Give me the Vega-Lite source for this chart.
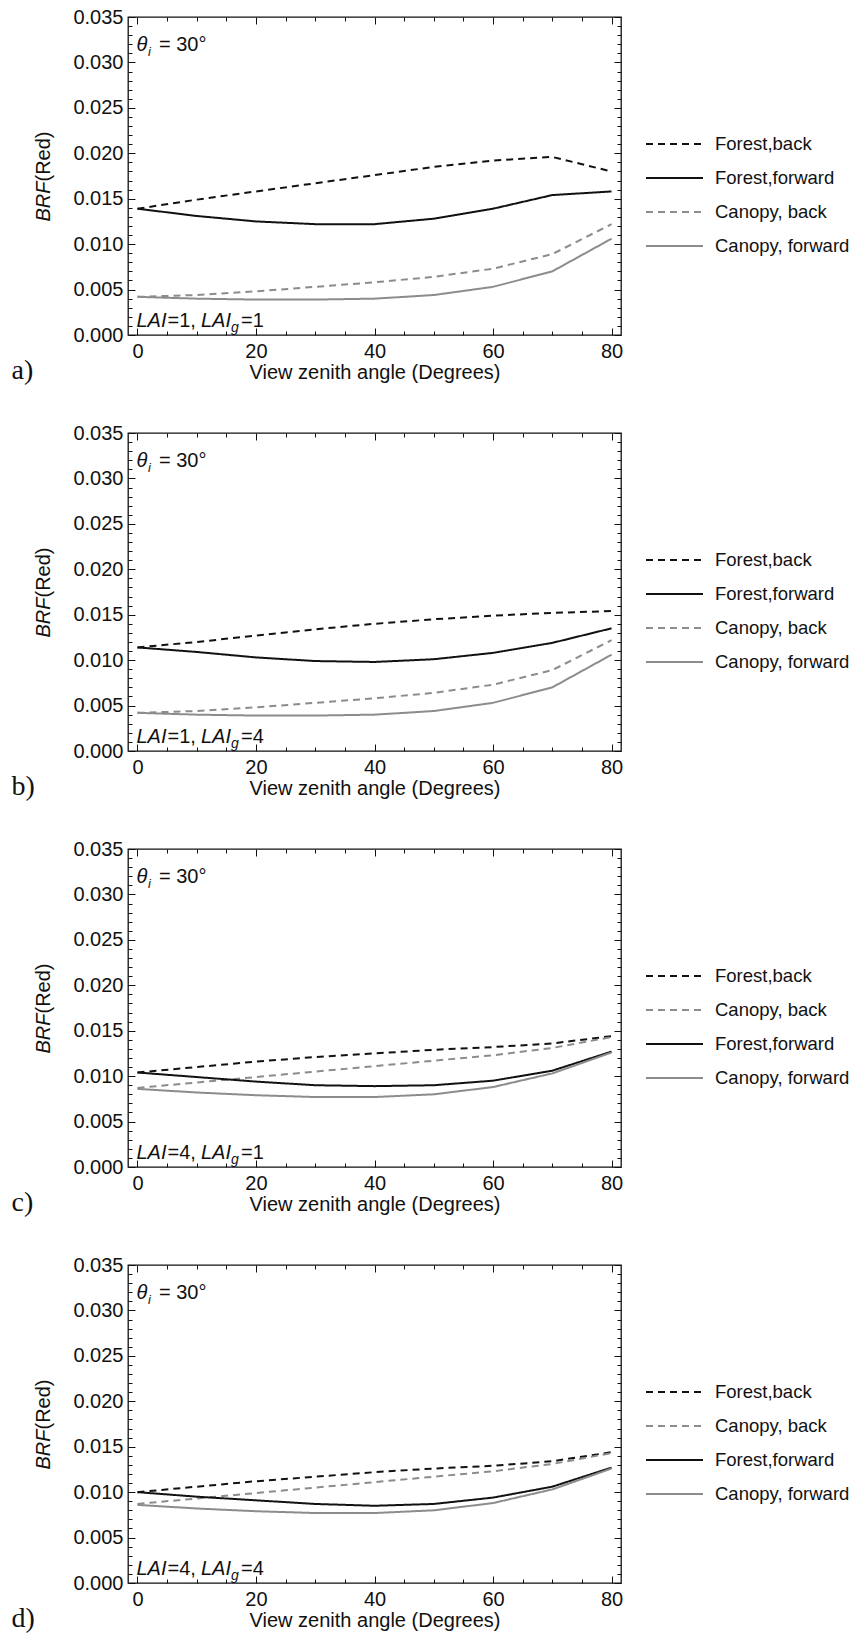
{
"background": "white",
"padding": {"top": 6, "left": 10, "right": 0, "bottom": 0},
"datasets": {
"curves": [
{"p":"a","s":"Forest,back","vza":0,"brf":0.0139},{"p":"a","s":"Forest,back","vza":10,"brf":0.0149},{"p":"a","s":"Forest,back","vza":20,"brf":0.0158},{"p":"a","s":"Forest,back","vza":30,"brf":0.0167},{"p":"a","s":"Forest,back","vza":40,"brf":0.0176},{"p":"a","s":"Forest,back","vza":50,"brf":0.0185},{"p":"a","s":"Forest,back","vza":60,"brf":0.0192},{"p":"a","s":"Forest,back","vza":70,"brf":0.0196},{"p":"a","s":"Forest,back","vza":80,"brf":0.0180},
{"p":"a","s":"Forest,forward","vza":0,"brf":0.0139},{"p":"a","s":"Forest,forward","vza":10,"brf":0.0131},{"p":"a","s":"Forest,forward","vza":20,"brf":0.0125},{"p":"a","s":"Forest,forward","vza":30,"brf":0.0122},{"p":"a","s":"Forest,forward","vza":40,"brf":0.0122},{"p":"a","s":"Forest,forward","vza":50,"brf":0.0128},{"p":"a","s":"Forest,forward","vza":60,"brf":0.0139},{"p":"a","s":"Forest,forward","vza":70,"brf":0.0154},{"p":"a","s":"Forest,forward","vza":80,"brf":0.0158},
{"p":"a","s":"Canopy, back","vza":0,"brf":0.0042},{"p":"a","s":"Canopy, back","vza":10,"brf":0.0044},{"p":"a","s":"Canopy, back","vza":20,"brf":0.0048},{"p":"a","s":"Canopy, back","vza":30,"brf":0.0053},{"p":"a","s":"Canopy, back","vza":40,"brf":0.0058},{"p":"a","s":"Canopy, back","vza":50,"brf":0.0064},{"p":"a","s":"Canopy, back","vza":60,"brf":0.0073},{"p":"a","s":"Canopy, back","vza":70,"brf":0.0089},{"p":"a","s":"Canopy, back","vza":80,"brf":0.0122},
{"p":"a","s":"Canopy, forward","vza":0,"brf":0.0042},{"p":"a","s":"Canopy, forward","vza":10,"brf":0.0040},{"p":"a","s":"Canopy, forward","vza":20,"brf":0.0039},{"p":"a","s":"Canopy, forward","vza":30,"brf":0.0039},{"p":"a","s":"Canopy, forward","vza":40,"brf":0.0040},{"p":"a","s":"Canopy, forward","vza":50,"brf":0.0044},{"p":"a","s":"Canopy, forward","vza":60,"brf":0.0053},{"p":"a","s":"Canopy, forward","vza":70,"brf":0.0070},{"p":"a","s":"Canopy, forward","vza":80,"brf":0.0106},
{"p":"b","s":"Forest,back","vza":0,"brf":0.0114},{"p":"b","s":"Forest,back","vza":10,"brf":0.0120},{"p":"b","s":"Forest,back","vza":20,"brf":0.0127},{"p":"b","s":"Forest,back","vza":30,"brf":0.0134},{"p":"b","s":"Forest,back","vza":40,"brf":0.0140},{"p":"b","s":"Forest,back","vza":50,"brf":0.0145},{"p":"b","s":"Forest,back","vza":60,"brf":0.0149},{"p":"b","s":"Forest,back","vza":70,"brf":0.0152},{"p":"b","s":"Forest,back","vza":80,"brf":0.0154},
{"p":"b","s":"Forest,forward","vza":0,"brf":0.0114},{"p":"b","s":"Forest,forward","vza":10,"brf":0.0109},{"p":"b","s":"Forest,forward","vza":20,"brf":0.0103},{"p":"b","s":"Forest,forward","vza":30,"brf":0.0099},{"p":"b","s":"Forest,forward","vza":40,"brf":0.0098},{"p":"b","s":"Forest,forward","vza":50,"brf":0.0101},{"p":"b","s":"Forest,forward","vza":60,"brf":0.0108},{"p":"b","s":"Forest,forward","vza":70,"brf":0.0119},{"p":"b","s":"Forest,forward","vza":80,"brf":0.0135},
{"p":"b","s":"Canopy, back","vza":0,"brf":0.0042},{"p":"b","s":"Canopy, back","vza":10,"brf":0.0044},{"p":"b","s":"Canopy, back","vza":20,"brf":0.0048},{"p":"b","s":"Canopy, back","vza":30,"brf":0.0053},{"p":"b","s":"Canopy, back","vza":40,"brf":0.0058},{"p":"b","s":"Canopy, back","vza":50,"brf":0.0064},{"p":"b","s":"Canopy, back","vza":60,"brf":0.0073},{"p":"b","s":"Canopy, back","vza":70,"brf":0.0089},{"p":"b","s":"Canopy, back","vza":80,"brf":0.0122},
{"p":"b","s":"Canopy, forward","vza":0,"brf":0.0042},{"p":"b","s":"Canopy, forward","vza":10,"brf":0.0040},{"p":"b","s":"Canopy, forward","vza":20,"brf":0.0039},{"p":"b","s":"Canopy, forward","vza":30,"brf":0.0039},{"p":"b","s":"Canopy, forward","vza":40,"brf":0.0040},{"p":"b","s":"Canopy, forward","vza":50,"brf":0.0044},{"p":"b","s":"Canopy, forward","vza":60,"brf":0.0053},{"p":"b","s":"Canopy, forward","vza":70,"brf":0.0070},{"p":"b","s":"Canopy, forward","vza":80,"brf":0.0106},
{"p":"c","s":"Forest,back","vza":0,"brf":0.0104},{"p":"c","s":"Forest,back","vza":10,"brf":0.0110},{"p":"c","s":"Forest,back","vza":20,"brf":0.0116},{"p":"c","s":"Forest,back","vza":30,"brf":0.0121},{"p":"c","s":"Forest,back","vza":40,"brf":0.0125},{"p":"c","s":"Forest,back","vza":50,"brf":0.0129},{"p":"c","s":"Forest,back","vza":60,"brf":0.0132},{"p":"c","s":"Forest,back","vza":70,"brf":0.0136},{"p":"c","s":"Forest,back","vza":80,"brf":0.0144},
{"p":"c","s":"Canopy, back","vza":0,"brf":0.0087},{"p":"c","s":"Canopy, back","vza":10,"brf":0.0093},{"p":"c","s":"Canopy, back","vza":20,"brf":0.0099},{"p":"c","s":"Canopy, back","vza":30,"brf":0.0105},{"p":"c","s":"Canopy, back","vza":40,"brf":0.0111},{"p":"c","s":"Canopy, back","vza":50,"brf":0.0117},{"p":"c","s":"Canopy, back","vza":60,"brf":0.0123},{"p":"c","s":"Canopy, back","vza":70,"brf":0.0131},{"p":"c","s":"Canopy, back","vza":80,"brf":0.0143},
{"p":"c","s":"Forest,forward","vza":0,"brf":0.0104},{"p":"c","s":"Forest,forward","vza":10,"brf":0.0099},{"p":"c","s":"Forest,forward","vza":20,"brf":0.0094},{"p":"c","s":"Forest,forward","vza":30,"brf":0.0090},{"p":"c","s":"Forest,forward","vza":40,"brf":0.0089},{"p":"c","s":"Forest,forward","vza":50,"brf":0.0090},{"p":"c","s":"Forest,forward","vza":60,"brf":0.0095},{"p":"c","s":"Forest,forward","vza":70,"brf":0.0106},{"p":"c","s":"Forest,forward","vza":80,"brf":0.0127},
{"p":"c","s":"Canopy, forward","vza":0,"brf":0.0086},{"p":"c","s":"Canopy, forward","vza":10,"brf":0.0082},{"p":"c","s":"Canopy, forward","vza":20,"brf":0.0079},{"p":"c","s":"Canopy, forward","vza":30,"brf":0.0077},{"p":"c","s":"Canopy, forward","vza":40,"brf":0.0077},{"p":"c","s":"Canopy, forward","vza":50,"brf":0.0080},{"p":"c","s":"Canopy, forward","vza":60,"brf":0.0088},{"p":"c","s":"Canopy, forward","vza":70,"brf":0.0103},{"p":"c","s":"Canopy, forward","vza":80,"brf":0.0126},
{"p":"d","s":"Forest,back","vza":0,"brf":0.0100},{"p":"d","s":"Forest,back","vza":10,"brf":0.0106},{"p":"d","s":"Forest,back","vza":20,"brf":0.0112},{"p":"d","s":"Forest,back","vza":30,"brf":0.0117},{"p":"d","s":"Forest,back","vza":40,"brf":0.0122},{"p":"d","s":"Forest,back","vza":50,"brf":0.0126},{"p":"d","s":"Forest,back","vza":60,"brf":0.0129},{"p":"d","s":"Forest,back","vza":70,"brf":0.0134},{"p":"d","s":"Forest,back","vza":80,"brf":0.0144},
{"p":"d","s":"Canopy, back","vza":0,"brf":0.0087},{"p":"d","s":"Canopy, back","vza":10,"brf":0.0093},{"p":"d","s":"Canopy, back","vza":20,"brf":0.0099},{"p":"d","s":"Canopy, back","vza":30,"brf":0.0105},{"p":"d","s":"Canopy, back","vza":40,"brf":0.0111},{"p":"d","s":"Canopy, back","vza":50,"brf":0.0117},{"p":"d","s":"Canopy, back","vza":60,"brf":0.0123},{"p":"d","s":"Canopy, back","vza":70,"brf":0.0131},{"p":"d","s":"Canopy, back","vza":80,"brf":0.0143},
{"p":"d","s":"Forest,forward","vza":0,"brf":0.0100},{"p":"d","s":"Forest,forward","vza":10,"brf":0.0095},{"p":"d","s":"Forest,forward","vza":20,"brf":0.0091},{"p":"d","s":"Forest,forward","vza":30,"brf":0.0087},{"p":"d","s":"Forest,forward","vza":40,"brf":0.0085},{"p":"d","s":"Forest,forward","vza":50,"brf":0.0087},{"p":"d","s":"Forest,forward","vza":60,"brf":0.0094},{"p":"d","s":"Forest,forward","vza":70,"brf":0.0106},{"p":"d","s":"Forest,forward","vza":80,"brf":0.0127},
{"p":"d","s":"Canopy, forward","vza":0,"brf":0.0086},{"p":"d","s":"Canopy, forward","vza":10,"brf":0.0082},{"p":"d","s":"Canopy, forward","vza":20,"brf":0.0079},{"p":"d","s":"Canopy, forward","vza":30,"brf":0.0077},{"p":"d","s":"Canopy, forward","vza":40,"brf":0.0077},{"p":"d","s":"Canopy, forward","vza":50,"brf":0.0080},{"p":"d","s":"Canopy, forward","vza":60,"brf":0.0088},{"p":"d","s":"Canopy, forward","vza":70,"brf":0.0103},{"p":"d","s":"Canopy, forward","vza":80,"brf":0.0126}
],
"theta": [
{"k":"th","vza":0,"brf":0.0313,"t":"θ"},{"k":"i","vza":0,"brf":0.0313,"t":"i"},{"k":"eq","vza":0,"brf":0.0313,"t":"= 30°"}
],
"lai": [
{"p":"a","k":"L1","vza":0,"brf":0.0009,"t":"LAI"},{"p":"a","k":"E1","vza":0,"brf":0.0009,"t":"=1,"},{"p":"a","k":"L2","vza":0,"brf":0.0009,"t":"LAI"},{"p":"a","k":"g","vza":0,"brf":0.0009,"t":"g"},{"p":"a","k":"E2","vza":0,"brf":0.0009,"t":"=1"},
{"p":"b","k":"L1","vza":0,"brf":0.0009,"t":"LAI"},{"p":"b","k":"E1","vza":0,"brf":0.0009,"t":"=1,"},{"p":"b","k":"L2","vza":0,"brf":0.0009,"t":"LAI"},{"p":"b","k":"g","vza":0,"brf":0.0009,"t":"g"},{"p":"b","k":"E2","vza":0,"brf":0.0009,"t":"=4"},
{"p":"c","k":"L1","vza":0,"brf":0.0009,"t":"LAI"},{"p":"c","k":"E1","vza":0,"brf":0.0009,"t":"=4,"},{"p":"c","k":"L2","vza":0,"brf":0.0009,"t":"LAI"},{"p":"c","k":"g","vza":0,"brf":0.0009,"t":"g"},{"p":"c","k":"E2","vza":0,"brf":0.0009,"t":"=1"},
{"p":"d","k":"L1","vza":0,"brf":0.0009,"t":"LAI"},{"p":"d","k":"E1","vza":0,"brf":0.0009,"t":"=4,"},{"p":"d","k":"L2","vza":0,"brf":0.0009,"t":"LAI"},{"p":"d","k":"g","vza":0,"brf":0.0009,"t":"g"},{"p":"d","k":"E2","vza":0,"brf":0.0009,"t":"=4"}
]
},
"bounds": "flush",
"spacing": 98,
"resolve": {"scale": {"color": "independent", "strokeDash": "independent"}, "legend": {"color": "independent", "strokeDash": "independent"}},
"vconcat": [
{"width": 493, "height": 318, "resolve": {"axis": {"x": "independent", "y": "independent"}},
"layer": [
{"data": {"name": "curves"}, "transform": [{"filter": "datum.p === 'a'"}], "mark": {"type": "line", "strokeWidth": 2},
"encoding": {
"x": {"field": "vza", "type": "quantitative", "scale": {"domain": [-1.6, 81.6], "nice": false, "zero": false}, "axis": {"orient": "bottom", "values": [0,20,40,60,80], "ticks": false, "labelPadding": 6, "labelFlush": false, "title": "View zenith angle (Degrees)", "titleY": 37, "titleBaseline": "middle"}},
"y": {"field": "brf", "type": "quantitative", "scale": {"domain": [0, 0.035], "nice": false, "zero": false}, "axis": {"orient": "left", "values": [0,0.005,0.01,0.015,0.02,0.025,0.03,0.035], "format": ".3f", "ticks": false, "labelPadding": 5, "labelFlush": false, "title": "BRF", "titleFontStyle": "italic", "titleX": -85, "titleY": 184, "titleBaseline": "middle", "titleAlign": "center"}},
"color": {"field": "s", "type": "nominal", "scale": {"domain": ["Forest,back","Forest,forward","Canopy, back","Canopy, forward"], "range": ["#111111","#111111","#8c8c8c","#8c8c8c"]}, "legend": {"title": null, "orient": "none", "legendX": 517, "legendY": 110, "direction": "vertical", "padding": 0, "symbolType": "stroke", "symbolSize": 3249, "symbolStrokeWidth": 2, "clipHeight": 34, "rowPadding": 0, "labelOffset": 11, "labelFont": "Liberation Sans", "labelFontSize": 18.5, "labelColor": "#111111", "labelLimit": 300}},
"strokeDash": {"field": "s", "type": "nominal", "scale": {"domain": ["Forest,back","Forest,forward","Canopy, back","Canopy, forward"], "range": [[7,5],[1,0],[7,5],[1,0]]}, "legend": {"title": null, "orient": "none", "legendX": 517, "legendY": 110, "direction": "vertical", "padding": 0, "symbolType": "stroke", "symbolSize": 3249, "symbolStrokeWidth": 2, "clipHeight": 34, "rowPadding": 0, "labelOffset": 11, "labelFont": "Liberation Sans", "labelFontSize": 18.5, "labelColor": "#111111", "labelLimit": 300}}
}},
{"data": {"name": "curves"}, "transform": [{"filter": "datum.p === 'a'"}], "mark": {"type": "point", "opacity": 0},
"encoding": {
"x": {"field": "vza", "type": "quantitative", "scale": {"domain": [-1.6, 81.6], "nice": false, "zero": false}, "axis": {"orient": "bottom", "values": [0,20,40,60,80], "labels": false, "tickSize": -7, "title": null}},
"y": {"field": "brf", "type": "quantitative", "scale": {"domain": [0, 0.035], "nice": false, "zero": false}, "axis": {"orient": "left", "values": [0,0.005,0.01,0.015,0.02,0.025,0.03,0.035], "labels": false, "tickSize": -7, "title": null}}
}},
{"data": {"name": "curves"}, "transform": [{"filter": "datum.p === 'a'"}], "mark": {"type": "point", "opacity": 0},
"encoding": {
"x": {"field": "vza", "type": "quantitative", "scale": {"domain": [-1.6, 81.6], "nice": false, "zero": false}, "axis": {"orient": "bottom", "values": [5,10,15,25,30,35,45,50,55,65,70,75], "labels": false, "tickSize": -4, "title": "a)", "titleFont": "Liberation Serif", "titleFontSize": 28, "titleX": -117, "titleY": 35, "titleAlign": "left", "titleBaseline": "middle"}},
"y": {"field": "brf", "type": "quantitative", "scale": {"domain": [0, 0.035], "nice": false, "zero": false}, "axis": {"orient": "left", "values": [0.001,0.002,0.003,0.004,0.006,0.007,0.008,0.009,0.011,0.012,0.013,0.014,0.016,0.017,0.018,0.019,0.021,0.022,0.023,0.024,0.026,0.027,0.028,0.029,0.031,0.032,0.033,0.034], "labels": false, "tickSize": -4, "title": "(Red)", "titleX": -85, "titleY": 139, "titleBaseline": "middle", "titleAlign": "center"}}
}},
{"data": {"name": "curves"}, "transform": [{"filter": "datum.p === 'a'"}], "mark": {"type": "point", "opacity": 0},
"encoding": {
"x": {"field": "vza", "type": "quantitative", "scale": {"domain": [-1.6, 81.6], "nice": false, "zero": false}, "axis": {"orient": "top", "values": [0,20,40,60,80], "labels": false, "tickSize": -7, "title": null}},
"y": {"field": "brf", "type": "quantitative", "scale": {"domain": [0, 0.035], "nice": false, "zero": false}, "axis": {"orient": "right", "values": [0,0.005,0.01,0.015,0.02,0.025,0.03,0.035], "labels": false, "tickSize": -7, "title": null}}
}},
{"data": {"name": "curves"}, "transform": [{"filter": "datum.p === 'a'"}], "mark": {"type": "point", "opacity": 0},
"encoding": {
"x": {"field": "vza", "type": "quantitative", "scale": {"domain": [-1.6, 81.6], "nice": false, "zero": false}, "axis": {"orient": "top", "values": [5,10,15,25,30,35,45,50,55,65,70,75], "labels": false, "tickSize": -4, "title": null}},
"y": {"field": "brf", "type": "quantitative", "scale": {"domain": [0, 0.035], "nice": false, "zero": false}, "axis": {"orient": "right", "values": [0.001,0.002,0.003,0.004,0.006,0.007,0.008,0.009,0.011,0.012,0.013,0.014,0.016,0.017,0.018,0.019,0.021,0.022,0.023,0.024,0.026,0.027,0.028,0.029,0.031,0.032,0.033,0.034], "labels": false, "tickSize": -4, "title": null}}
}},
{"data": {"name": "theta"}, "transform": [{"filter": "datum.k === 'th'"}], "mark": {"type": "text", "align": "left", "baseline": "alphabetic", "fontSize": 20, "fontStyle": "italic", "dx": -1},
"encoding": {"x": {"field": "vza", "type": "quantitative", "scale": {"domain": [-1.6, 81.6], "nice": false, "zero": false}, "axis": null}, "y": {"field": "brf", "type": "quantitative", "scale": {"domain": [0, 0.035], "nice": false, "zero": false}, "axis": null}, "text": {"field": "t"}}},
{"data": {"name": "theta"}, "transform": [{"filter": "datum.k === 'i'"}], "mark": {"type": "text", "align": "left", "baseline": "alphabetic", "fontSize": 13, "fontStyle": "italic", "dx": 10.5, "dy": 5},
"encoding": {"x": {"field": "vza", "type": "quantitative", "scale": {"domain": [-1.6, 81.6], "nice": false, "zero": false}, "axis": null}, "y": {"field": "brf", "type": "quantitative", "scale": {"domain": [0, 0.035], "nice": false, "zero": false}, "axis": null}, "text": {"field": "t"}}},
{"data": {"name": "theta"}, "transform": [{"filter": "datum.k === 'eq'"}], "mark": {"type": "text", "align": "left", "baseline": "alphabetic", "fontSize": 20, "dx": 21.5},
"encoding": {"x": {"field": "vza", "type": "quantitative", "scale": {"domain": [-1.6, 81.6], "nice": false, "zero": false}, "axis": null}, "y": {"field": "brf", "type": "quantitative", "scale": {"domain": [0, 0.035], "nice": false, "zero": false}, "axis": null}, "text": {"field": "t"}}},
{"data": {"name": "lai"}, "transform": [{"filter": "datum.p === 'a' && datum.k === 'L1'"}], "mark": {"type": "text", "align": "left", "baseline": "alphabetic", "fontSize": 20, "fontStyle": "italic", "dx": -1},
"encoding": {"x": {"field": "vza", "type": "quantitative", "scale": {"domain": [-1.6, 81.6], "nice": false, "zero": false}, "axis": null}, "y": {"field": "brf", "type": "quantitative", "scale": {"domain": [0, 0.035], "nice": false, "zero": false}, "axis": null}, "text": {"field": "t"}}},
{"data": {"name": "lai"}, "transform": [{"filter": "datum.p === 'a' && datum.k === 'E1'"}], "mark": {"type": "text", "align": "left", "baseline": "alphabetic", "fontSize": 20, "dx": 30},
"encoding": {"x": {"field": "vza", "type": "quantitative", "scale": {"domain": [-1.6, 81.6], "nice": false, "zero": false}, "axis": null}, "y": {"field": "brf", "type": "quantitative", "scale": {"domain": [0, 0.035], "nice": false, "zero": false}, "axis": null}, "text": {"field": "t"}}},
{"data": {"name": "lai"}, "transform": [{"filter": "datum.p === 'a' && datum.k === 'L2'"}], "mark": {"type": "text", "align": "left", "baseline": "alphabetic", "fontSize": 20, "fontStyle": "italic", "dx": 63.5},
"encoding": {"x": {"field": "vza", "type": "quantitative", "scale": {"domain": [-1.6, 81.6], "nice": false, "zero": false}, "axis": null}, "y": {"field": "brf", "type": "quantitative", "scale": {"domain": [0, 0.035], "nice": false, "zero": false}, "axis": null}, "text": {"field": "t"}}},
{"data": {"name": "lai"}, "transform": [{"filter": "datum.p === 'a' && datum.k === 'g'"}], "mark": {"type": "text", "align": "left", "baseline": "alphabetic", "fontSize": 14, "fontStyle": "italic", "dx": 93.5, "dy": 5},
"encoding": {"x": {"field": "vza", "type": "quantitative", "scale": {"domain": [-1.6, 81.6], "nice": false, "zero": false}, "axis": null}, "y": {"field": "brf", "type": "quantitative", "scale": {"domain": [0, 0.035], "nice": false, "zero": false}, "axis": null}, "text": {"field": "t"}}},
{"data": {"name": "lai"}, "transform": [{"filter": "datum.p === 'a' && datum.k === 'E2'"}], "mark": {"type": "text", "align": "left", "baseline": "alphabetic", "fontSize": 20, "dx": 103.5},
"encoding": {"x": {"field": "vza", "type": "quantitative", "scale": {"domain": [-1.6, 81.6], "nice": false, "zero": false}, "axis": null}, "y": {"field": "brf", "type": "quantitative", "scale": {"domain": [0, 0.035], "nice": false, "zero": false}, "axis": null}, "text": {"field": "t"}}}
]},
{"width": 493, "height": 318, "resolve": {"axis": {"x": "independent", "y": "independent"}},
"layer": [
{"data": {"name": "curves"}, "transform": [{"filter": "datum.p === 'b'"}], "mark": {"type": "line", "strokeWidth": 2},
"encoding": {
"x": {"field": "vza", "type": "quantitative", "scale": {"domain": [-1.6, 81.6], "nice": false, "zero": false}, "axis": {"orient": "bottom", "values": [0,20,40,60,80], "ticks": false, "labelPadding": 6, "labelFlush": false, "title": "View zenith angle (Degrees)", "titleY": 37, "titleBaseline": "middle"}},
"y": {"field": "brf", "type": "quantitative", "scale": {"domain": [0, 0.035], "nice": false, "zero": false}, "axis": {"orient": "left", "values": [0,0.005,0.01,0.015,0.02,0.025,0.03,0.035], "format": ".3f", "ticks": false, "labelPadding": 5, "labelFlush": false, "title": "BRF", "titleFontStyle": "italic", "titleX": -85, "titleY": 184, "titleBaseline": "middle", "titleAlign": "center"}},
"color": {"field": "s", "type": "nominal", "scale": {"domain": ["Forest,back","Forest,forward","Canopy, back","Canopy, forward"], "range": ["#111111","#111111","#8c8c8c","#8c8c8c"]}, "legend": {"title": null, "orient": "none", "legendX": 517, "legendY": 110, "direction": "vertical", "padding": 0, "symbolType": "stroke", "symbolSize": 3249, "symbolStrokeWidth": 2, "clipHeight": 34, "rowPadding": 0, "labelOffset": 11, "labelFont": "Liberation Sans", "labelFontSize": 18.5, "labelColor": "#111111", "labelLimit": 300}},
"strokeDash": {"field": "s", "type": "nominal", "scale": {"domain": ["Forest,back","Forest,forward","Canopy, back","Canopy, forward"], "range": [[7,5],[1,0],[7,5],[1,0]]}, "legend": {"title": null, "orient": "none", "legendX": 517, "legendY": 110, "direction": "vertical", "padding": 0, "symbolType": "stroke", "symbolSize": 3249, "symbolStrokeWidth": 2, "clipHeight": 34, "rowPadding": 0, "labelOffset": 11, "labelFont": "Liberation Sans", "labelFontSize": 18.5, "labelColor": "#111111", "labelLimit": 300}}
}},
{"data": {"name": "curves"}, "transform": [{"filter": "datum.p === 'b'"}], "mark": {"type": "point", "opacity": 0},
"encoding": {
"x": {"field": "vza", "type": "quantitative", "scale": {"domain": [-1.6, 81.6], "nice": false, "zero": false}, "axis": {"orient": "bottom", "values": [0,20,40,60,80], "labels": false, "tickSize": -7, "title": null}},
"y": {"field": "brf", "type": "quantitative", "scale": {"domain": [0, 0.035], "nice": false, "zero": false}, "axis": {"orient": "left", "values": [0,0.005,0.01,0.015,0.02,0.025,0.03,0.035], "labels": false, "tickSize": -7, "title": null}}
}},
{"data": {"name": "curves"}, "transform": [{"filter": "datum.p === 'b'"}], "mark": {"type": "point", "opacity": 0},
"encoding": {
"x": {"field": "vza", "type": "quantitative", "scale": {"domain": [-1.6, 81.6], "nice": false, "zero": false}, "axis": {"orient": "bottom", "values": [5,10,15,25,30,35,45,50,55,65,70,75], "labels": false, "tickSize": -4, "title": "b)", "titleFont": "Liberation Serif", "titleFontSize": 28, "titleX": -117, "titleY": 35, "titleAlign": "left", "titleBaseline": "middle"}},
"y": {"field": "brf", "type": "quantitative", "scale": {"domain": [0, 0.035], "nice": false, "zero": false}, "axis": {"orient": "left", "values": [0.001,0.002,0.003,0.004,0.006,0.007,0.008,0.009,0.011,0.012,0.013,0.014,0.016,0.017,0.018,0.019,0.021,0.022,0.023,0.024,0.026,0.027,0.028,0.029,0.031,0.032,0.033,0.034], "labels": false, "tickSize": -4, "title": "(Red)", "titleX": -85, "titleY": 139, "titleBaseline": "middle", "titleAlign": "center"}}
}},
{"data": {"name": "curves"}, "transform": [{"filter": "datum.p === 'b'"}], "mark": {"type": "point", "opacity": 0},
"encoding": {
"x": {"field": "vza", "type": "quantitative", "scale": {"domain": [-1.6, 81.6], "nice": false, "zero": false}, "axis": {"orient": "top", "values": [0,20,40,60,80], "labels": false, "tickSize": -7, "title": null}},
"y": {"field": "brf", "type": "quantitative", "scale": {"domain": [0, 0.035], "nice": false, "zero": false}, "axis": {"orient": "right", "values": [0,0.005,0.01,0.015,0.02,0.025,0.03,0.035], "labels": false, "tickSize": -7, "title": null}}
}},
{"data": {"name": "curves"}, "transform": [{"filter": "datum.p === 'b'"}], "mark": {"type": "point", "opacity": 0},
"encoding": {
"x": {"field": "vza", "type": "quantitative", "scale": {"domain": [-1.6, 81.6], "nice": false, "zero": false}, "axis": {"orient": "top", "values": [5,10,15,25,30,35,45,50,55,65,70,75], "labels": false, "tickSize": -4, "title": null}},
"y": {"field": "brf", "type": "quantitative", "scale": {"domain": [0, 0.035], "nice": false, "zero": false}, "axis": {"orient": "right", "values": [0.001,0.002,0.003,0.004,0.006,0.007,0.008,0.009,0.011,0.012,0.013,0.014,0.016,0.017,0.018,0.019,0.021,0.022,0.023,0.024,0.026,0.027,0.028,0.029,0.031,0.032,0.033,0.034], "labels": false, "tickSize": -4, "title": null}}
}},
{"data": {"name": "theta"}, "transform": [{"filter": "datum.k === 'th'"}], "mark": {"type": "text", "align": "left", "baseline": "alphabetic", "fontSize": 20, "fontStyle": "italic", "dx": -1},
"encoding": {"x": {"field": "vza", "type": "quantitative", "scale": {"domain": [-1.6, 81.6], "nice": false, "zero": false}, "axis": null}, "y": {"field": "brf", "type": "quantitative", "scale": {"domain": [0, 0.035], "nice": false, "zero": false}, "axis": null}, "text": {"field": "t"}}},
{"data": {"name": "theta"}, "transform": [{"filter": "datum.k === 'i'"}], "mark": {"type": "text", "align": "left", "baseline": "alphabetic", "fontSize": 13, "fontStyle": "italic", "dx": 10.5, "dy": 5},
"encoding": {"x": {"field": "vza", "type": "quantitative", "scale": {"domain": [-1.6, 81.6], "nice": false, "zero": false}, "axis": null}, "y": {"field": "brf", "type": "quantitative", "scale": {"domain": [0, 0.035], "nice": false, "zero": false}, "axis": null}, "text": {"field": "t"}}},
{"data": {"name": "theta"}, "transform": [{"filter": "datum.k === 'eq'"}], "mark": {"type": "text", "align": "left", "baseline": "alphabetic", "fontSize": 20, "dx": 21.5},
"encoding": {"x": {"field": "vza", "type": "quantitative", "scale": {"domain": [-1.6, 81.6], "nice": false, "zero": false}, "axis": null}, "y": {"field": "brf", "type": "quantitative", "scale": {"domain": [0, 0.035], "nice": false, "zero": false}, "axis": null}, "text": {"field": "t"}}},
{"data": {"name": "lai"}, "transform": [{"filter": "datum.p === 'b' && datum.k === 'L1'"}], "mark": {"type": "text", "align": "left", "baseline": "alphabetic", "fontSize": 20, "fontStyle": "italic", "dx": -1},
"encoding": {"x": {"field": "vza", "type": "quantitative", "scale": {"domain": [-1.6, 81.6], "nice": false, "zero": false}, "axis": null}, "y": {"field": "brf", "type": "quantitative", "scale": {"domain": [0, 0.035], "nice": false, "zero": false}, "axis": null}, "text": {"field": "t"}}},
{"data": {"name": "lai"}, "transform": [{"filter": "datum.p === 'b' && datum.k === 'E1'"}], "mark": {"type": "text", "align": "left", "baseline": "alphabetic", "fontSize": 20, "dx": 30},
"encoding": {"x": {"field": "vza", "type": "quantitative", "scale": {"domain": [-1.6, 81.6], "nice": false, "zero": false}, "axis": null}, "y": {"field": "brf", "type": "quantitative", "scale": {"domain": [0, 0.035], "nice": false, "zero": false}, "axis": null}, "text": {"field": "t"}}},
{"data": {"name": "lai"}, "transform": [{"filter": "datum.p === 'b' && datum.k === 'L2'"}], "mark": {"type": "text", "align": "left", "baseline": "alphabetic", "fontSize": 20, "fontStyle": "italic", "dx": 63.5},
"encoding": {"x": {"field": "vza", "type": "quantitative", "scale": {"domain": [-1.6, 81.6], "nice": false, "zero": false}, "axis": null}, "y": {"field": "brf", "type": "quantitative", "scale": {"domain": [0, 0.035], "nice": false, "zero": false}, "axis": null}, "text": {"field": "t"}}},
{"data": {"name": "lai"}, "transform": [{"filter": "datum.p === 'b' && datum.k === 'g'"}], "mark": {"type": "text", "align": "left", "baseline": "alphabetic", "fontSize": 14, "fontStyle": "italic", "dx": 93.5, "dy": 5},
"encoding": {"x": {"field": "vza", "type": "quantitative", "scale": {"domain": [-1.6, 81.6], "nice": false, "zero": false}, "axis": null}, "y": {"field": "brf", "type": "quantitative", "scale": {"domain": [0, 0.035], "nice": false, "zero": false}, "axis": null}, "text": {"field": "t"}}},
{"data": {"name": "lai"}, "transform": [{"filter": "datum.p === 'b' && datum.k === 'E2'"}], "mark": {"type": "text", "align": "left", "baseline": "alphabetic", "fontSize": 20, "dx": 103.5},
"encoding": {"x": {"field": "vza", "type": "quantitative", "scale": {"domain": [-1.6, 81.6], "nice": false, "zero": false}, "axis": null}, "y": {"field": "brf", "type": "quantitative", "scale": {"domain": [0, 0.035], "nice": false, "zero": false}, "axis": null}, "text": {"field": "t"}}}
]},
{"width": 493, "height": 318, "resolve": {"axis": {"x": "independent", "y": "independent"}},
"layer": [
{"data": {"name": "curves"}, "transform": [{"filter": "datum.p === 'c'"}], "mark": {"type": "line", "strokeWidth": 2},
"encoding": {
"x": {"field": "vza", "type": "quantitative", "scale": {"domain": [-1.6, 81.6], "nice": false, "zero": false}, "axis": {"orient": "bottom", "values": [0,20,40,60,80], "ticks": false, "labelPadding": 6, "labelFlush": false, "title": "View zenith angle (Degrees)", "titleY": 37, "titleBaseline": "middle"}},
"y": {"field": "brf", "type": "quantitative", "scale": {"domain": [0, 0.035], "nice": false, "zero": false}, "axis": {"orient": "left", "values": [0,0.005,0.01,0.015,0.02,0.025,0.03,0.035], "format": ".3f", "ticks": false, "labelPadding": 5, "labelFlush": false, "title": "BRF", "titleFontStyle": "italic", "titleX": -85, "titleY": 184, "titleBaseline": "middle", "titleAlign": "center"}},
"color": {"field": "s", "type": "nominal", "scale": {"domain": ["Forest,back","Canopy, back","Forest,forward","Canopy, forward"], "range": ["#111111","#8c8c8c","#111111","#8c8c8c"]}, "legend": {"title": null, "orient": "none", "legendX": 517, "legendY": 110, "direction": "vertical", "padding": 0, "symbolType": "stroke", "symbolSize": 3249, "symbolStrokeWidth": 2, "clipHeight": 34, "rowPadding": 0, "labelOffset": 11, "labelFont": "Liberation Sans", "labelFontSize": 18.5, "labelColor": "#111111", "labelLimit": 300}},
"strokeDash": {"field": "s", "type": "nominal", "scale": {"domain": ["Forest,back","Canopy, back","Forest,forward","Canopy, forward"], "range": [[7,5],[7,5],[1,0],[1,0]]}, "legend": {"title": null, "orient": "none", "legendX": 517, "legendY": 110, "direction": "vertical", "padding": 0, "symbolType": "stroke", "symbolSize": 3249, "symbolStrokeWidth": 2, "clipHeight": 34, "rowPadding": 0, "labelOffset": 11, "labelFont": "Liberation Sans", "labelFontSize": 18.5, "labelColor": "#111111", "labelLimit": 300}}
}},
{"data": {"name": "curves"}, "transform": [{"filter": "datum.p === 'c'"}], "mark": {"type": "point", "opacity": 0},
"encoding": {
"x": {"field": "vza", "type": "quantitative", "scale": {"domain": [-1.6, 81.6], "nice": false, "zero": false}, "axis": {"orient": "bottom", "values": [0,20,40,60,80], "labels": false, "tickSize": -7, "title": null}},
"y": {"field": "brf", "type": "quantitative", "scale": {"domain": [0, 0.035], "nice": false, "zero": false}, "axis": {"orient": "left", "values": [0,0.005,0.01,0.015,0.02,0.025,0.03,0.035], "labels": false, "tickSize": -7, "title": null}}
}},
{"data": {"name": "curves"}, "transform": [{"filter": "datum.p === 'c'"}], "mark": {"type": "point", "opacity": 0},
"encoding": {
"x": {"field": "vza", "type": "quantitative", "scale": {"domain": [-1.6, 81.6], "nice": false, "zero": false}, "axis": {"orient": "bottom", "values": [5,10,15,25,30,35,45,50,55,65,70,75], "labels": false, "tickSize": -4, "title": "c)", "titleFont": "Liberation Serif", "titleFontSize": 28, "titleX": -117, "titleY": 35, "titleAlign": "left", "titleBaseline": "middle"}},
"y": {"field": "brf", "type": "quantitative", "scale": {"domain": [0, 0.035], "nice": false, "zero": false}, "axis": {"orient": "left", "values": [0.001,0.002,0.003,0.004,0.006,0.007,0.008,0.009,0.011,0.012,0.013,0.014,0.016,0.017,0.018,0.019,0.021,0.022,0.023,0.024,0.026,0.027,0.028,0.029,0.031,0.032,0.033,0.034], "labels": false, "tickSize": -4, "title": "(Red)", "titleX": -85, "titleY": 139, "titleBaseline": "middle", "titleAlign": "center"}}
}},
{"data": {"name": "curves"}, "transform": [{"filter": "datum.p === 'c'"}], "mark": {"type": "point", "opacity": 0},
"encoding": {
"x": {"field": "vza", "type": "quantitative", "scale": {"domain": [-1.6, 81.6], "nice": false, "zero": false}, "axis": {"orient": "top", "values": [0,20,40,60,80], "labels": false, "tickSize": -7, "title": null}},
"y": {"field": "brf", "type": "quantitative", "scale": {"domain": [0, 0.035], "nice": false, "zero": false}, "axis": {"orient": "right", "values": [0,0.005,0.01,0.015,0.02,0.025,0.03,0.035], "labels": false, "tickSize": -7, "title": null}}
}},
{"data": {"name": "curves"}, "transform": [{"filter": "datum.p === 'c'"}], "mark": {"type": "point", "opacity": 0},
"encoding": {
"x": {"field": "vza", "type": "quantitative", "scale": {"domain": [-1.6, 81.6], "nice": false, "zero": false}, "axis": {"orient": "top", "values": [5,10,15,25,30,35,45,50,55,65,70,75], "labels": false, "tickSize": -4, "title": null}},
"y": {"field": "brf", "type": "quantitative", "scale": {"domain": [0, 0.035], "nice": false, "zero": false}, "axis": {"orient": "right", "values": [0.001,0.002,0.003,0.004,0.006,0.007,0.008,0.009,0.011,0.012,0.013,0.014,0.016,0.017,0.018,0.019,0.021,0.022,0.023,0.024,0.026,0.027,0.028,0.029,0.031,0.032,0.033,0.034], "labels": false, "tickSize": -4, "title": null}}
}},
{"data": {"name": "theta"}, "transform": [{"filter": "datum.k === 'th'"}], "mark": {"type": "text", "align": "left", "baseline": "alphabetic", "fontSize": 20, "fontStyle": "italic", "dx": -1},
"encoding": {"x": {"field": "vza", "type": "quantitative", "scale": {"domain": [-1.6, 81.6], "nice": false, "zero": false}, "axis": null}, "y": {"field": "brf", "type": "quantitative", "scale": {"domain": [0, 0.035], "nice": false, "zero": false}, "axis": null}, "text": {"field": "t"}}},
{"data": {"name": "theta"}, "transform": [{"filter": "datum.k === 'i'"}], "mark": {"type": "text", "align": "left", "baseline": "alphabetic", "fontSize": 13, "fontStyle": "italic", "dx": 10.5, "dy": 5},
"encoding": {"x": {"field": "vza", "type": "quantitative", "scale": {"domain": [-1.6, 81.6], "nice": false, "zero": false}, "axis": null}, "y": {"field": "brf", "type": "quantitative", "scale": {"domain": [0, 0.035], "nice": false, "zero": false}, "axis": null}, "text": {"field": "t"}}},
{"data": {"name": "theta"}, "transform": [{"filter": "datum.k === 'eq'"}], "mark": {"type": "text", "align": "left", "baseline": "alphabetic", "fontSize": 20, "dx": 21.5},
"encoding": {"x": {"field": "vza", "type": "quantitative", "scale": {"domain": [-1.6, 81.6], "nice": false, "zero": false}, "axis": null}, "y": {"field": "brf", "type": "quantitative", "scale": {"domain": [0, 0.035], "nice": false, "zero": false}, "axis": null}, "text": {"field": "t"}}},
{"data": {"name": "lai"}, "transform": [{"filter": "datum.p === 'c' && datum.k === 'L1'"}], "mark": {"type": "text", "align": "left", "baseline": "alphabetic", "fontSize": 20, "fontStyle": "italic", "dx": -1},
"encoding": {"x": {"field": "vza", "type": "quantitative", "scale": {"domain": [-1.6, 81.6], "nice": false, "zero": false}, "axis": null}, "y": {"field": "brf", "type": "quantitative", "scale": {"domain": [0, 0.035], "nice": false, "zero": false}, "axis": null}, "text": {"field": "t"}}},
{"data": {"name": "lai"}, "transform": [{"filter": "datum.p === 'c' && datum.k === 'E1'"}], "mark": {"type": "text", "align": "left", "baseline": "alphabetic", "fontSize": 20, "dx": 30},
"encoding": {"x": {"field": "vza", "type": "quantitative", "scale": {"domain": [-1.6, 81.6], "nice": false, "zero": false}, "axis": null}, "y": {"field": "brf", "type": "quantitative", "scale": {"domain": [0, 0.035], "nice": false, "zero": false}, "axis": null}, "text": {"field": "t"}}},
{"data": {"name": "lai"}, "transform": [{"filter": "datum.p === 'c' && datum.k === 'L2'"}], "mark": {"type": "text", "align": "left", "baseline": "alphabetic", "fontSize": 20, "fontStyle": "italic", "dx": 63.5},
"encoding": {"x": {"field": "vza", "type": "quantitative", "scale": {"domain": [-1.6, 81.6], "nice": false, "zero": false}, "axis": null}, "y": {"field": "brf", "type": "quantitative", "scale": {"domain": [0, 0.035], "nice": false, "zero": false}, "axis": null}, "text": {"field": "t"}}},
{"data": {"name": "lai"}, "transform": [{"filter": "datum.p === 'c' && datum.k === 'g'"}], "mark": {"type": "text", "align": "left", "baseline": "alphabetic", "fontSize": 14, "fontStyle": "italic", "dx": 93.5, "dy": 5},
"encoding": {"x": {"field": "vza", "type": "quantitative", "scale": {"domain": [-1.6, 81.6], "nice": false, "zero": false}, "axis": null}, "y": {"field": "brf", "type": "quantitative", "scale": {"domain": [0, 0.035], "nice": false, "zero": false}, "axis": null}, "text": {"field": "t"}}},
{"data": {"name": "lai"}, "transform": [{"filter": "datum.p === 'c' && datum.k === 'E2'"}], "mark": {"type": "text", "align": "left", "baseline": "alphabetic", "fontSize": 20, "dx": 103.5},
"encoding": {"x": {"field": "vza", "type": "quantitative", "scale": {"domain": [-1.6, 81.6], "nice": false, "zero": false}, "axis": null}, "y": {"field": "brf", "type": "quantitative", "scale": {"domain": [0, 0.035], "nice": false, "zero": false}, "axis": null}, "text": {"field": "t"}}}
]},
{"width": 493, "height": 318, "resolve": {"axis": {"x": "independent", "y": "independent"}},
"layer": [
{"data": {"name": "curves"}, "transform": [{"filter": "datum.p === 'd'"}], "mark": {"type": "line", "strokeWidth": 2},
"encoding": {
"x": {"field": "vza", "type": "quantitative", "scale": {"domain": [-1.6, 81.6], "nice": false, "zero": false}, "axis": {"orient": "bottom", "values": [0,20,40,60,80], "ticks": false, "labelPadding": 6, "labelFlush": false, "title": "View zenith angle (Degrees)", "titleY": 37, "titleBaseline": "middle"}},
"y": {"field": "brf", "type": "quantitative", "scale": {"domain": [0, 0.035], "nice": false, "zero": false}, "axis": {"orient": "left", "values": [0,0.005,0.01,0.015,0.02,0.025,0.03,0.035], "format": ".3f", "ticks": false, "labelPadding": 5, "labelFlush": false, "title": "BRF", "titleFontStyle": "italic", "titleX": -85, "titleY": 184, "titleBaseline": "middle", "titleAlign": "center"}},
"color": {"field": "s", "type": "nominal", "scale": {"domain": ["Forest,back","Canopy, back","Forest,forward","Canopy, forward"], "range": ["#111111","#8c8c8c","#111111","#8c8c8c"]}, "legend": {"title": null, "orient": "none", "legendX": 517, "legendY": 110, "direction": "vertical", "padding": 0, "symbolType": "stroke", "symbolSize": 3249, "symbolStrokeWidth": 2, "clipHeight": 34, "rowPadding": 0, "labelOffset": 11, "labelFont": "Liberation Sans", "labelFontSize": 18.5, "labelColor": "#111111", "labelLimit": 300}},
"strokeDash": {"field": "s", "type": "nominal", "scale": {"domain": ["Forest,back","Canopy, back","Forest,forward","Canopy, forward"], "range": [[7,5],[7,5],[1,0],[1,0]]}, "legend": {"title": null, "orient": "none", "legendX": 517, "legendY": 110, "direction": "vertical", "padding": 0, "symbolType": "stroke", "symbolSize": 3249, "symbolStrokeWidth": 2, "clipHeight": 34, "rowPadding": 0, "labelOffset": 11, "labelFont": "Liberation Sans", "labelFontSize": 18.5, "labelColor": "#111111", "labelLimit": 300}}
}},
{"data": {"name": "curves"}, "transform": [{"filter": "datum.p === 'd'"}], "mark": {"type": "point", "opacity": 0},
"encoding": {
"x": {"field": "vza", "type": "quantitative", "scale": {"domain": [-1.6, 81.6], "nice": false, "zero": false}, "axis": {"orient": "bottom", "values": [0,20,40,60,80], "labels": false, "tickSize": -7, "title": null}},
"y": {"field": "brf", "type": "quantitative", "scale": {"domain": [0, 0.035], "nice": false, "zero": false}, "axis": {"orient": "left", "values": [0,0.005,0.01,0.015,0.02,0.025,0.03,0.035], "labels": false, "tickSize": -7, "title": null}}
}},
{"data": {"name": "curves"}, "transform": [{"filter": "datum.p === 'd'"}], "mark": {"type": "point", "opacity": 0},
"encoding": {
"x": {"field": "vza", "type": "quantitative", "scale": {"domain": [-1.6, 81.6], "nice": false, "zero": false}, "axis": {"orient": "bottom", "values": [5,10,15,25,30,35,45,50,55,65,70,75], "labels": false, "tickSize": -4, "title": "d)", "titleFont": "Liberation Serif", "titleFontSize": 28, "titleX": -117, "titleY": 35, "titleAlign": "left", "titleBaseline": "middle"}},
"y": {"field": "brf", "type": "quantitative", "scale": {"domain": [0, 0.035], "nice": false, "zero": false}, "axis": {"orient": "left", "values": [0.001,0.002,0.003,0.004,0.006,0.007,0.008,0.009,0.011,0.012,0.013,0.014,0.016,0.017,0.018,0.019,0.021,0.022,0.023,0.024,0.026,0.027,0.028,0.029,0.031,0.032,0.033,0.034], "labels": false, "tickSize": -4, "title": "(Red)", "titleX": -85, "titleY": 139, "titleBaseline": "middle", "titleAlign": "center"}}
}},
{"data": {"name": "curves"}, "transform": [{"filter": "datum.p === 'd'"}], "mark": {"type": "point", "opacity": 0},
"encoding": {
"x": {"field": "vza", "type": "quantitative", "scale": {"domain": [-1.6, 81.6], "nice": false, "zero": false}, "axis": {"orient": "top", "values": [0,20,40,60,80], "labels": false, "tickSize": -7, "title": null}},
"y": {"field": "brf", "type": "quantitative", "scale": {"domain": [0, 0.035], "nice": false, "zero": false}, "axis": {"orient": "right", "values": [0,0.005,0.01,0.015,0.02,0.025,0.03,0.035], "labels": false, "tickSize": -7, "title": null}}
}},
{"data": {"name": "curves"}, "transform": [{"filter": "datum.p === 'd'"}], "mark": {"type": "point", "opacity": 0},
"encoding": {
"x": {"field": "vza", "type": "quantitative", "scale": {"domain": [-1.6, 81.6], "nice": false, "zero": false}, "axis": {"orient": "top", "values": [5,10,15,25,30,35,45,50,55,65,70,75], "labels": false, "tickSize": -4, "title": null}},
"y": {"field": "brf", "type": "quantitative", "scale": {"domain": [0, 0.035], "nice": false, "zero": false}, "axis": {"orient": "right", "values": [0.001,0.002,0.003,0.004,0.006,0.007,0.008,0.009,0.011,0.012,0.013,0.014,0.016,0.017,0.018,0.019,0.021,0.022,0.023,0.024,0.026,0.027,0.028,0.029,0.031,0.032,0.033,0.034], "labels": false, "tickSize": -4, "title": null}}
}},
{"data": {"name": "theta"}, "transform": [{"filter": "datum.k === 'th'"}], "mark": {"type": "text", "align": "left", "baseline": "alphabetic", "fontSize": 20, "fontStyle": "italic", "dx": -1},
"encoding": {"x": {"field": "vza", "type": "quantitative", "scale": {"domain": [-1.6, 81.6], "nice": false, "zero": false}, "axis": null}, "y": {"field": "brf", "type": "quantitative", "scale": {"domain": [0, 0.035], "nice": false, "zero": false}, "axis": null}, "text": {"field": "t"}}},
{"data": {"name": "theta"}, "transform": [{"filter": "datum.k === 'i'"}], "mark": {"type": "text", "align": "left", "baseline": "alphabetic", "fontSize": 13, "fontStyle": "italic", "dx": 10.5, "dy": 5},
"encoding": {"x": {"field": "vza", "type": "quantitative", "scale": {"domain": [-1.6, 81.6], "nice": false, "zero": false}, "axis": null}, "y": {"field": "brf", "type": "quantitative", "scale": {"domain": [0, 0.035], "nice": false, "zero": false}, "axis": null}, "text": {"field": "t"}}},
{"data": {"name": "theta"}, "transform": [{"filter": "datum.k === 'eq'"}], "mark": {"type": "text", "align": "left", "baseline": "alphabetic", "fontSize": 20, "dx": 21.5},
"encoding": {"x": {"field": "vza", "type": "quantitative", "scale": {"domain": [-1.6, 81.6], "nice": false, "zero": false}, "axis": null}, "y": {"field": "brf", "type": "quantitative", "scale": {"domain": [0, 0.035], "nice": false, "zero": false}, "axis": null}, "text": {"field": "t"}}},
{"data": {"name": "lai"}, "transform": [{"filter": "datum.p === 'd' && datum.k === 'L1'"}], "mark": {"type": "text", "align": "left", "baseline": "alphabetic", "fontSize": 20, "fontStyle": "italic", "dx": -1},
"encoding": {"x": {"field": "vza", "type": "quantitative", "scale": {"domain": [-1.6, 81.6], "nice": false, "zero": false}, "axis": null}, "y": {"field": "brf", "type": "quantitative", "scale": {"domain": [0, 0.035], "nice": false, "zero": false}, "axis": null}, "text": {"field": "t"}}},
{"data": {"name": "lai"}, "transform": [{"filter": "datum.p === 'd' && datum.k === 'E1'"}], "mark": {"type": "text", "align": "left", "baseline": "alphabetic", "fontSize": 20, "dx": 30},
"encoding": {"x": {"field": "vza", "type": "quantitative", "scale": {"domain": [-1.6, 81.6], "nice": false, "zero": false}, "axis": null}, "y": {"field": "brf", "type": "quantitative", "scale": {"domain": [0, 0.035], "nice": false, "zero": false}, "axis": null}, "text": {"field": "t"}}},
{"data": {"name": "lai"}, "transform": [{"filter": "datum.p === 'd' && datum.k === 'L2'"}], "mark": {"type": "text", "align": "left", "baseline": "alphabetic", "fontSize": 20, "fontStyle": "italic", "dx": 63.5},
"encoding": {"x": {"field": "vza", "type": "quantitative", "scale": {"domain": [-1.6, 81.6], "nice": false, "zero": false}, "axis": null}, "y": {"field": "brf", "type": "quantitative", "scale": {"domain": [0, 0.035], "nice": false, "zero": false}, "axis": null}, "text": {"field": "t"}}},
{"data": {"name": "lai"}, "transform": [{"filter": "datum.p === 'd' && datum.k === 'g'"}], "mark": {"type": "text", "align": "left", "baseline": "alphabetic", "fontSize": 14, "fontStyle": "italic", "dx": 93.5, "dy": 5},
"encoding": {"x": {"field": "vza", "type": "quantitative", "scale": {"domain": [-1.6, 81.6], "nice": false, "zero": false}, "axis": null}, "y": {"field": "brf", "type": "quantitative", "scale": {"domain": [0, 0.035], "nice": false, "zero": false}, "axis": null}, "text": {"field": "t"}}},
{"data": {"name": "lai"}, "transform": [{"filter": "datum.p === 'd' && datum.k === 'E2'"}], "mark": {"type": "text", "align": "left", "baseline": "alphabetic", "fontSize": 20, "dx": 103.5},
"encoding": {"x": {"field": "vza", "type": "quantitative", "scale": {"domain": [-1.6, 81.6], "nice": false, "zero": false}, "axis": null}, "y": {"field": "brf", "type": "quantitative", "scale": {"domain": [0, 0.035], "nice": false, "zero": false}, "axis": null}, "text": {"field": "t"}}}
]}
],
"config": {
"view": {"stroke": "#111111", "strokeWidth": 1.3},
"axis": {"tickColor": "#111111", "tickWidth": 1, "labelFont": "Liberation Sans", "titleFont": "Liberation Sans", "labelFontSize": 20, "titleFontSize": 20, "titleFontWeight": "normal", "labelColor": "#111111", "titleColor": "#111111", "domain": false, "grid": false},
"text": {"font": "Liberation Sans", "color": "#111111"}
}
}
